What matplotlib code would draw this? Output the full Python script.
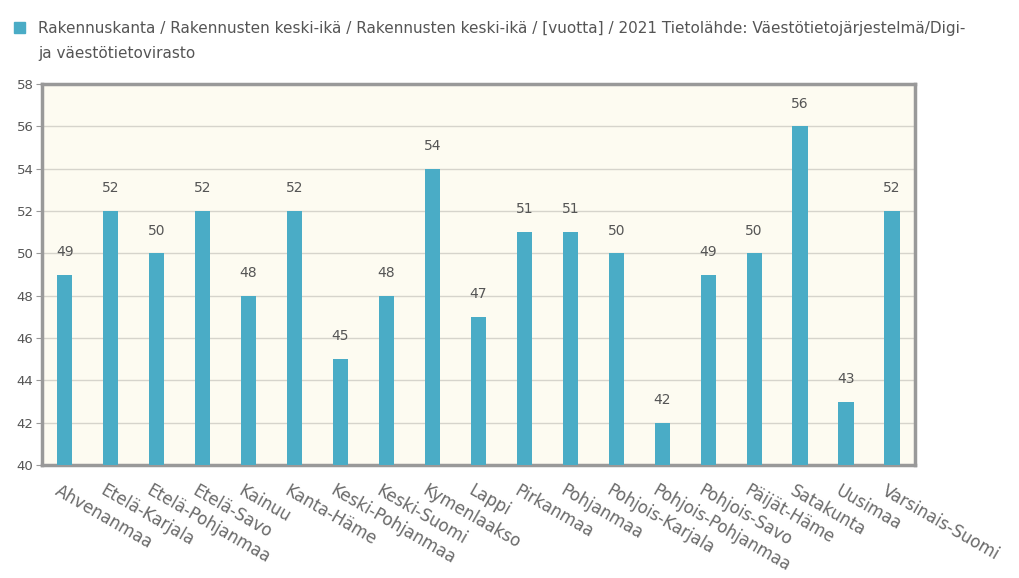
import matplotlib
matplotlib.use("Agg")
import matplotlib.pyplot as plt
from matplotlib.patches import Rectangle

categories = ["Ahvenanmaa", "Etelä-Karjala", "Etelä-Pohjanmaa", "Etelä-Savo", "Kainuu",
              "Kanta-Häme", "Keski-Pohjanmaa", "Keski-Suomi", "Kymenlaakso", "Lappi",
              "Pirkanmaa", "Pohjanmaa", "Pohjois-Karjala", "Pohjois-Pohjanmaa", "Pohjois-Savo",
              "Päijät-Häme", "Satakunta", "Uusimaa", "Varsinais-Suomi"]
values = [49, 52, 50, 52, 48, 52, 45, 48, 54, 47, 51, 51, 50, 42, 49, 50, 56, 43, 52]
yticks = [40, 42, 44, 46, 48, 50, 52, 54, 56, 58]
title = ("Rakennuskanta / Rakennusten keski-ikä / Rakennusten keski-ikä / [vuotta] / 2021 "
         "Tietolähde: Väestötietojärjestelmä/Digi-\nja väestötietovirasto")

bar_color = "#4aacc6"
text_color = "#555555"

fig = plt.figure(figsize=(10.2, 5.78), dpi=100)
ax = fig.add_axes([0.041, 0.1955, 0.856, 0.659])
ax.set_facecolor("#fdfbf1")

x = list(range(len(categories)))
ax.bar(x, values, width=0.33, color=bar_color, zorder=3, bottom=0)
ax.set_ylim(40, 58)
ax.set_xlim(-0.5, len(categories) - 0.5)
ax.set_yticks(yticks)
ax.set_yticklabels([str(t) for t in yticks], color=text_color, fontsize=9.5)
ax.yaxis.grid(True, color="#d6d4cc", linewidth=1, zorder=0)
ax.set_axisbelow(True)
ax.tick_params(axis="y", length=4, color="#999999", pad=2)
ax.tick_params(axis="x", length=0)
ax.set_xticks(x)
ax.set_xticklabels([])
for s in ax.spines.values():
    s.set_color("#999999")
    s.set_linewidth(2.5)

for xi, v in zip(x, values):
    ax.text(xi, v + 0.75, str(v), ha="center", va="bottom", fontsize=10, color=text_color)

for xi, c in zip(x, categories):
    ax.annotate(c, xy=(xi, 40), xycoords="data", xytext=(-3, -12), textcoords="offset points",
                rotation=-30, rotation_mode="anchor", ha="left", va="top",
                fontsize=12, color="#6a6a6a", annotation_clip=False)

fig.patches.append(Rectangle((14 / 1020, 1 - 33 / 578), 11 / 1020, 11 / 578,
                             transform=fig.transFigure, color=bar_color))
fig.text(38 / 1020, 1 - 21 / 578, title, ha="left", va="top", fontsize=11,
         color=text_color, linespacing=1.85)

fig.savefig("out.png", dpi=100)
